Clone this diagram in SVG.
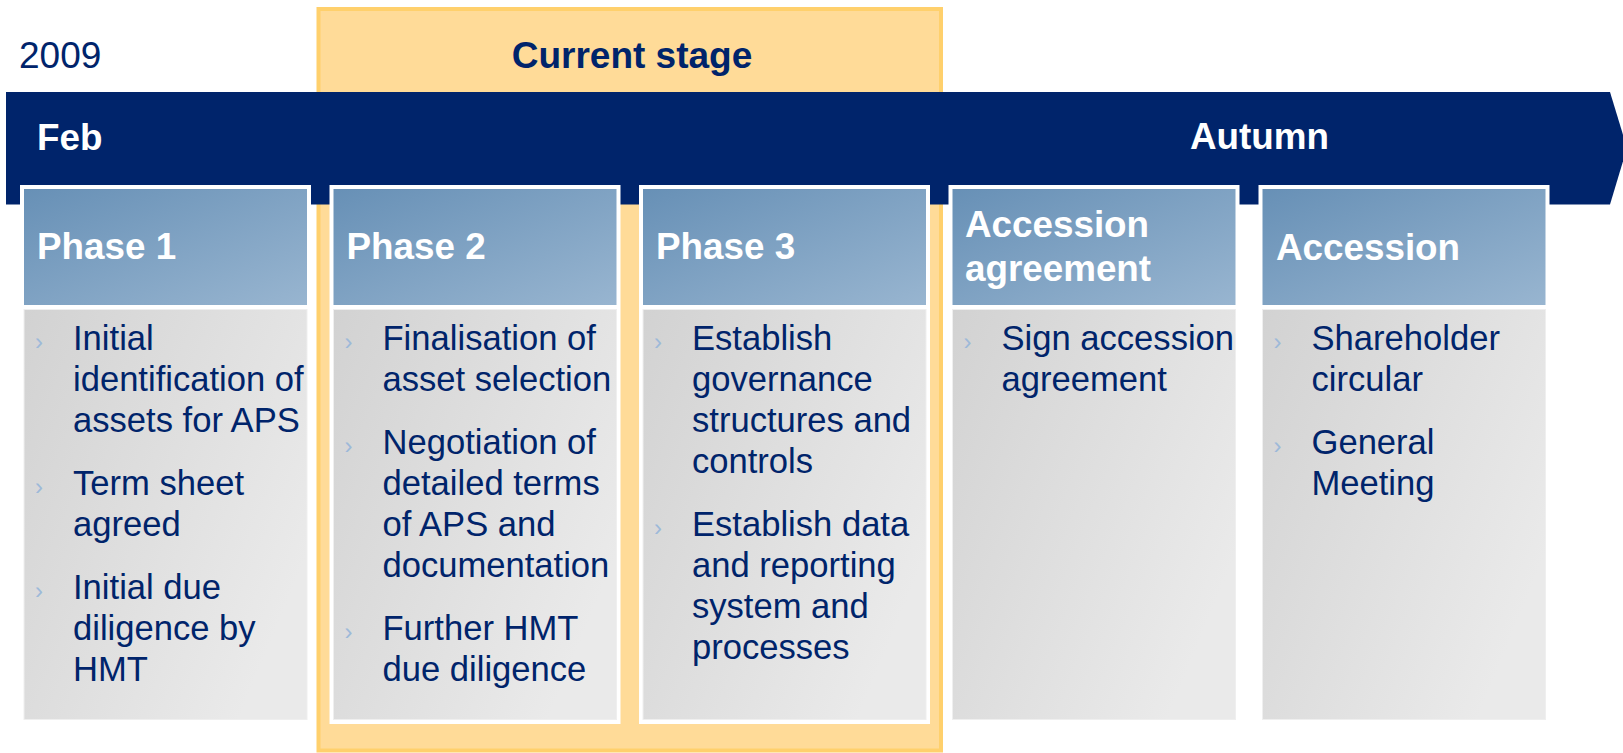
<svg xmlns="http://www.w3.org/2000/svg" width="1623" height="753" viewBox="0 0 1623 753">
  <defs>
    <linearGradient id="hdrGrad" x1="0" y1="0" x2="1" y2="1">
      <stop offset="0" stop-color="#6790B6"/>
      <stop offset="1" stop-color="#98B5D0"/>
    </linearGradient>
    <linearGradient id="bodyGrad" x1="0" y1="0" x2="1" y2="0.6">
      <stop offset="0" stop-color="#D2D2D2"/>
      <stop offset="1" stop-color="#EAEAEA"/>
    </linearGradient>
    <style>
      text { font-family: "Liberation Sans", Arial, sans-serif; }
      .frame { fill: #FFFFFF; }
      .hdr { fill: url(#hdrGrad); }
      .body { fill: url(#bodyGrad); stroke: #EFEFEF; stroke-width: 1; }
      .hdr-text { font-size: 36.8px; font-weight: bold; fill: #FFFFFF; }
      .item { font-size: 34.6px; fill: #00246B; }
      .bullet { font-size: 24px; fill: #9DB9D9; }
      .navy-label { font-size: 37px; fill: #00246B; }
    </style>
  </defs>

  <rect width="1623" height="753" fill="#FFFFFF"/>

  <!-- highlighted band for the current stage -->
  <g id="current-stage">
    <rect x="318.5" y="9" width="622.5" height="741.5" fill="#FFDB98" stroke="#FFD06C" stroke-width="4"/>
    <text class="navy-label" x="632" y="68" text-anchor="middle" font-weight="bold">Current stage</text>
  </g>

  <text id="year" class="navy-label" x="19" y="68">2009</text>

  <!-- timeline arrow -->
  <g id="timeline">
    <polygon points="6,92 1610,92 1627,148 1610,204.5 6,204.5" fill="#00246B"/>
    <text class="hdr-text" x="37" y="150">Feb</text>
    <text class="hdr-text" x="1190" y="149">Autumn</text>
  </g>

  <!-- Phase 1 -->
  <g id="phase-1">
    <rect class="frame" x="20" y="185" width="291" height="539"/>
    <rect class="hdr" x="24" y="189" width="283" height="116"/>
    <rect class="body" x="24" y="309.5" width="283" height="410"/>
    <text class="hdr-text" x="37" y="259">Phase 1</text>
    <text class="bullet" x="35" y="350">›</text>
    <text class="item" x="73" y="350">Initial</text>
    <text class="item" x="73" y="391">identification of</text>
    <text class="item" x="73" y="432">assets for APS</text>
    <text class="bullet" x="35" y="495">›</text>
    <text class="item" x="73" y="495">Term sheet</text>
    <text class="item" x="73" y="536">agreed</text>
    <text class="bullet" x="35" y="599">›</text>
    <text class="item" x="73" y="599">Initial due</text>
    <text class="item" x="73" y="640">diligence by</text>
    <text class="item" x="73" y="681">HMT</text>
  </g>

  <!-- Phase 2 -->
  <g id="phase-2">
    <rect class="frame" x="329.5" y="185" width="291" height="539"/>
    <rect class="hdr" x="333.5" y="189" width="283" height="116"/>
    <rect class="body" x="333.5" y="309.5" width="283" height="410"/>
    <text class="hdr-text" x="346.5" y="259">Phase 2</text>
    <text class="bullet" x="344.5" y="350">›</text>
    <text class="item" x="382.5" y="350">Finalisation of</text>
    <text class="item" x="382.5" y="391">asset selection</text>
    <text class="bullet" x="344.5" y="454">›</text>
    <text class="item" x="382.5" y="454">Negotiation of</text>
    <text class="item" x="382.5" y="495">detailed terms</text>
    <text class="item" x="382.5" y="536">of APS and</text>
    <text class="item" x="382.5" y="577">documentation</text>
    <text class="bullet" x="344.5" y="640">›</text>
    <text class="item" x="382.5" y="640">Further HMT</text>
    <text class="item" x="382.5" y="681">due diligence</text>
  </g>

  <!-- Phase 3 -->
  <g id="phase-3">
    <rect class="frame" x="639" y="185" width="291" height="539"/>
    <rect class="hdr" x="643" y="189" width="283" height="116"/>
    <rect class="body" x="643" y="309.5" width="283" height="410"/>
    <text class="hdr-text" x="656" y="259">Phase 3</text>
    <text class="bullet" x="654" y="350">›</text>
    <text class="item" x="692" y="350">Establish</text>
    <text class="item" x="692" y="391">governance</text>
    <text class="item" x="692" y="432">structures and</text>
    <text class="item" x="692" y="473">controls</text>
    <text class="bullet" x="654" y="536">›</text>
    <text class="item" x="692" y="536">Establish data</text>
    <text class="item" x="692" y="577">and reporting</text>
    <text class="item" x="692" y="618">system and</text>
    <text class="item" x="692" y="659">processes</text>
  </g>

  <!-- Accession agreement -->
  <g id="accession-agreement">
    <rect class="frame" x="948.5" y="185" width="291" height="539"/>
    <rect class="hdr" x="952.5" y="189" width="283" height="116"/>
    <rect class="body" x="952.5" y="309.5" width="283" height="410"/>
    <text class="hdr-text" x="965" y="237">Accession</text>
    <text class="hdr-text" x="965" y="281">agreement</text>
    <text class="bullet" x="963.5" y="350">›</text>
    <text class="item" x="1001.5" y="350">Sign accession</text>
    <text class="item" x="1001.5" y="391">agreement</text>
  </g>

  <!-- Accession -->
  <g id="accession">
    <rect class="frame" x="1258.5" y="185" width="291" height="539"/>
    <rect class="hdr" x="1262.5" y="189" width="283" height="116"/>
    <rect class="body" x="1262.5" y="309.5" width="283" height="410"/>
    <text class="hdr-text" x="1276" y="260">Accession</text>
    <text class="bullet" x="1273.5" y="350">›</text>
    <text class="item" x="1311.5" y="350">Shareholder</text>
    <text class="item" x="1311.5" y="391">circular</text>
    <text class="bullet" x="1273.5" y="454">›</text>
    <text class="item" x="1311.5" y="454">General</text>
    <text class="item" x="1311.5" y="495">Meeting</text>
  </g>
</svg>
